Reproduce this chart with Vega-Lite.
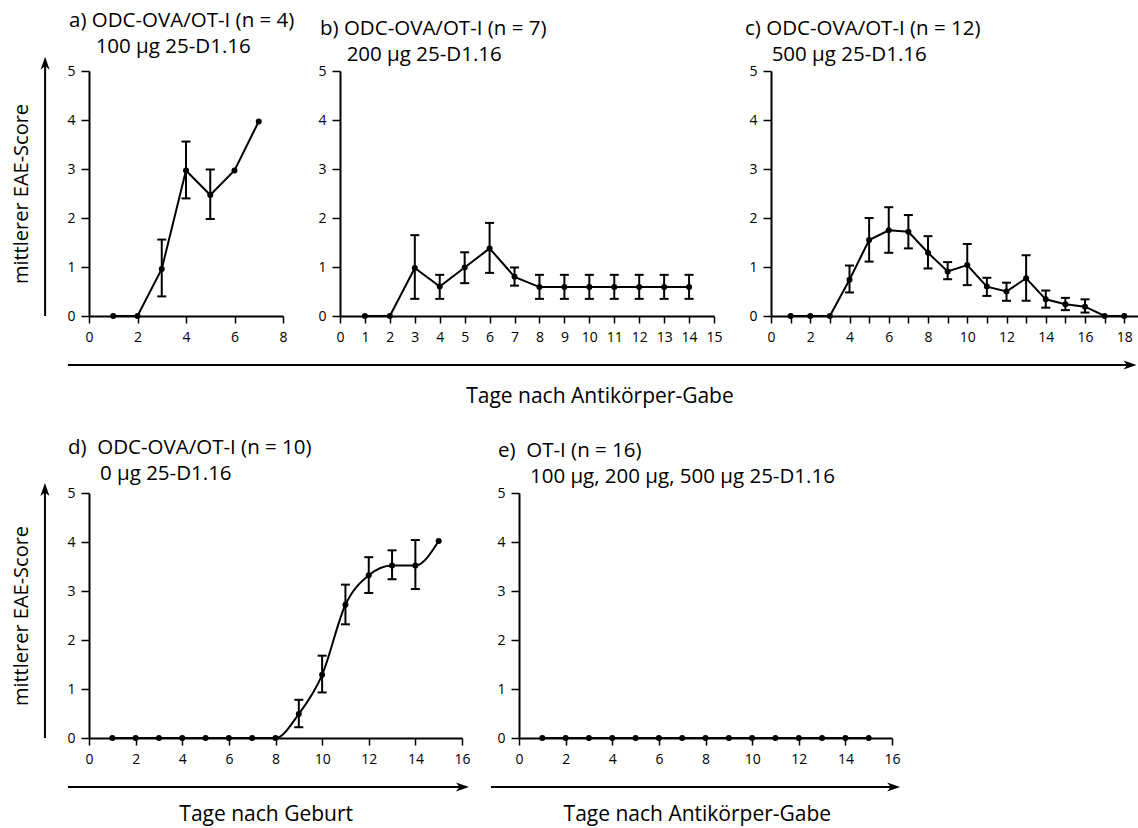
{
  "$schema": "https://vega.github.io/schema/vega-lite/v6.json",
  "padding": {"left": 11, "top": 11, "right": 0, "bottom": 5},
  "config": {
    "font": "Open Sans",
    "view": {"stroke": null},
    "axis": {"domainColor": "black", "domainWidth": 2, "tickColor": "black", "tickWidth": 1.5, "labelColor": "black", "labelFont": "Open Sans", "labelFontSize": 14, "grid": false, "titleColor": "black", "titleFont": "Open Sans", "titleFontSize": 20, "titleFontWeight": "normal", "labelFlush": false, "labelOverlap": false},
    "axisX": {"tickSize": 7, "labelPadding": 7},
    "axisY": {"tickSize": 8, "labelPadding": 6},
    "title": {"font": "Open Sans", "fontSize": 20.5, "fontWeight": "normal", "anchor": "start", "frame": "group", "color": "black", "lineHeight": 26, "offset": -1}
  },
  "data": {"values": [
    {"panel": "a", "day": 1, "score": 0},
    {"panel": "a", "day": 2, "score": 0},
    {"panel": "a", "day": 3, "score": 0.96, "lo": 0.4, "hi": 1.56},
    {"panel": "a", "day": 4, "score": 2.97, "lo": 2.4, "hi": 3.56},
    {"panel": "a", "day": 5, "score": 2.47, "lo": 1.98, "hi": 2.99},
    {"panel": "a", "day": 6, "score": 2.97},
    {"panel": "a", "day": 7, "score": 3.97},
    {"panel": "b", "day": 1, "score": 0},
    {"panel": "b", "day": 2, "score": 0},
    {"panel": "b", "day": 3, "score": 0.98, "lo": 0.35, "hi": 1.65},
    {"panel": "b", "day": 4, "score": 0.6, "lo": 0.35, "hi": 0.84},
    {"panel": "b", "day": 5, "score": 0.99, "lo": 0.67, "hi": 1.3},
    {"panel": "b", "day": 6, "score": 1.38, "lo": 0.88, "hi": 1.9},
    {"panel": "b", "day": 7, "score": 0.8, "lo": 0.62, "hi": 0.99},
    {"panel": "b", "day": 8, "score": 0.59, "lo": 0.35, "hi": 0.84},
    {"panel": "b", "day": 9, "score": 0.59, "lo": 0.35, "hi": 0.84},
    {"panel": "b", "day": 10, "score": 0.59, "lo": 0.35, "hi": 0.84},
    {"panel": "b", "day": 11, "score": 0.59, "lo": 0.35, "hi": 0.84},
    {"panel": "b", "day": 12, "score": 0.59, "lo": 0.35, "hi": 0.84},
    {"panel": "b", "day": 13, "score": 0.59, "lo": 0.35, "hi": 0.84},
    {"panel": "b", "day": 14, "score": 0.59, "lo": 0.35, "hi": 0.84},
    {"panel": "c", "day": 1, "score": 0},
    {"panel": "c", "day": 2, "score": 0},
    {"panel": "c", "day": 3, "score": 0},
    {"panel": "c", "day": 4, "score": 0.74, "lo": 0.48, "hi": 1.03},
    {"panel": "c", "day": 5, "score": 1.55, "lo": 1.11, "hi": 2.0},
    {"panel": "c", "day": 6, "score": 1.75, "lo": 1.29, "hi": 2.22},
    {"panel": "c", "day": 7, "score": 1.72, "lo": 1.38, "hi": 2.06},
    {"panel": "c", "day": 8, "score": 1.29, "lo": 0.97, "hi": 1.63},
    {"panel": "c", "day": 9, "score": 0.91, "lo": 0.75, "hi": 1.1},
    {"panel": "c", "day": 10, "score": 1.04, "lo": 0.63, "hi": 1.47},
    {"panel": "c", "day": 11, "score": 0.6, "lo": 0.41, "hi": 0.78},
    {"panel": "c", "day": 12, "score": 0.5, "lo": 0.31, "hi": 0.68},
    {"panel": "c", "day": 13, "score": 0.77, "lo": 0.31, "hi": 1.24},
    {"panel": "c", "day": 14, "score": 0.34, "lo": 0.17, "hi": 0.52},
    {"panel": "c", "day": 15, "score": 0.24, "lo": 0.12, "hi": 0.37},
    {"panel": "c", "day": 16, "score": 0.19, "lo": 0.07, "hi": 0.34},
    {"panel": "c", "day": 17, "score": 0},
    {"panel": "c", "day": 18, "score": 0},
    {"panel": "d", "day": 1, "score": 0},
    {"panel": "d", "day": 2, "score": 0},
    {"panel": "d", "day": 3, "score": 0},
    {"panel": "d", "day": 4, "score": 0},
    {"panel": "d", "day": 5, "score": 0},
    {"panel": "d", "day": 6, "score": 0},
    {"panel": "d", "day": 7, "score": 0},
    {"panel": "d", "day": 8, "score": 0},
    {"panel": "d", "day": 9, "score": 0.49, "lo": 0.22, "hi": 0.78},
    {"panel": "d", "day": 10, "score": 1.29, "lo": 0.93, "hi": 1.68},
    {"panel": "d", "day": 11, "score": 2.72, "lo": 2.32, "hi": 3.13},
    {"panel": "d", "day": 12, "score": 3.32, "lo": 2.96, "hi": 3.69},
    {"panel": "d", "day": 13, "score": 3.52, "lo": 3.24, "hi": 3.83},
    {"panel": "d", "day": 14, "score": 3.52, "lo": 3.04, "hi": 4.04},
    {"panel": "d", "day": 15, "score": 4.02},
    {"panel": "e", "day": 1, "score": 0},
    {"panel": "e", "day": 2, "score": 0},
    {"panel": "e", "day": 3, "score": 0},
    {"panel": "e", "day": 4, "score": 0},
    {"panel": "e", "day": 5, "score": 0},
    {"panel": "e", "day": 6, "score": 0},
    {"panel": "e", "day": 7, "score": 0},
    {"panel": "e", "day": 8, "score": 0},
    {"panel": "e", "day": 9, "score": 0},
    {"panel": "e", "day": 10, "score": 0},
    {"panel": "e", "day": 11, "score": 0},
    {"panel": "e", "day": 12, "score": 0},
    {"panel": "e", "day": 13, "score": 0},
    {"panel": "e", "day": 14, "score": 0},
    {"panel": "e", "day": 15, "score": 0}
  ]},
  "spacing": 422,
  "bounds": "flush",
  "vconcat": [
    {
      "spacing": 57,
      "bounds": "flush",
      "hconcat": [
        {
          "title": {"text": ["a) ODC-OVA/OT-I (n = 4)", "\u200b\u00a0\u00a0\u00a0\u00a0\u00a0100 µg 25-D1.16"], "dx": -20},
          "width": 194, "height": 245,
          "layer": [
            {
              "transform": [{"filter": "datum.panel == 'a'"}],
              "encoding": {"x": {"field": "day", "type": "quantitative", "scale": {"domain": [0, 8]}, "axis": {"values": [0,1,2,3,4,5,6,7,8], "title": null}}},
              "layer": [
                {"mark": {"type": "line", "color": "black", "strokeWidth": 2}, "encoding": {"y": {"field": "score", "type": "quantitative", "scale": {"domain": [0, 5]}, "axis": {"values": [0,1,2,3,4,5], "title": "mittlerer EAE-Score", "titlePadding": 35}}}},
                {"transform": [{"filter": "isValid(datum.lo)"}], "mark": {"type": "rule", "color": "black", "strokeWidth": 2}, "encoding": {"y": {"field": "lo", "type": "quantitative"}, "y2": {"field": "hi"}}},
                {"transform": [{"filter": "isValid(datum.lo)"}], "mark": {"type": "tick", "orient": "horizontal", "size": 9, "thickness": 2, "color": "black", "opacity": 1}, "encoding": {"y": {"field": "lo", "type": "quantitative"}}},
                {"transform": [{"filter": "isValid(datum.hi)"}], "mark": {"type": "tick", "orient": "horizontal", "size": 9, "thickness": 2, "color": "black", "opacity": 1}, "encoding": {"y": {"field": "hi", "type": "quantitative"}}},
                {"mark": {"type": "circle", "color": "black", "size": 36, "opacity": 1}, "encoding": {"y": {"field": "score", "type": "quantitative"}}}
              ]
            },
            {"data": {"values": [{}]}, "mark": {"type": "rule", "color": "black", "strokeWidth": 2}, "encoding": {"x": {"datum": -1.81, "type": "quantitative"}, "y": {"datum": 0, "type": "quantitative"}, "y2": {"datum": 5.16}}},
            {"data": {"values": [{}]}, "mark": {"type": "point", "shape": "M0,-1L0.7,1L0,0.45L-0.7,1Z", "filled": true, "color": "black", "size": 169, "opacity": 1}, "encoding": {"x": {"datum": -1.81, "type": "quantitative"}, "y": {"datum": 5.16, "type": "quantitative"}}},
            {"data": {"values": [{}]}, "mark": {"type": "rule", "color": "black", "strokeWidth": 2}, "encoding": {"x": {"datum": -0.87, "type": "quantitative"}, "x2": {"datum": 42.93}, "y": {"datum": -1.0, "type": "quantitative"}}},
            {"data": {"values": [{}]}, "mark": {"type": "point", "shape": "M0,-1L0.7,1L0,0.45L-0.7,1Z", "filled": true, "color": "black", "size": 169, "opacity": 1, "angle": 90}, "encoding": {"x": {"datum": 42.93, "type": "quantitative"}, "y": {"datum": -1.0, "type": "quantitative"}}},
            {"data": {"values": [{}]}, "mark": {"type": "text", "text": "Tage nach Antikörper-Gabe", "font": "Open Sans", "fontSize": 21, "color": "black", "align": "center", "baseline": "middle"}, "encoding": {"x": {"datum": 21.07, "type": "quantitative"}, "y": {"datum": -1.65, "type": "quantitative"}}}
          ]
        },
        {
          "title": {"text": ["b) ODC-OVA/OT-I (n = 7)", "\u200b\u00a0\u00a0\u00a0\u00a0\u00a0200 µg 25-D1.16"], "dx": -20},
          "width": 374, "height": 245,
          "transform": [{"filter": "datum.panel == 'b'"}],
          "encoding": {"x": {"field": "day", "type": "quantitative", "scale": {"domain": [0, 15]}, "axis": {"values": [0,1,2,3,4,5,6,7,8,9,10,11,12,13,14,15], "title": null}}},
          "layer": [
            {"mark": {"type": "line", "color": "black", "strokeWidth": 2}, "encoding": {"y": {"field": "score", "type": "quantitative", "scale": {"domain": [0, 5]}, "axis": {"values": [0,1,2,3,4,5], "title": null}}}},
            {"transform": [{"filter": "isValid(datum.lo)"}], "mark": {"type": "rule", "color": "black", "strokeWidth": 2}, "encoding": {"y": {"field": "lo", "type": "quantitative"}, "y2": {"field": "hi"}}},
            {"transform": [{"filter": "isValid(datum.lo)"}], "mark": {"type": "tick", "orient": "horizontal", "size": 9, "thickness": 2, "color": "black", "opacity": 1}, "encoding": {"y": {"field": "lo", "type": "quantitative"}}},
            {"transform": [{"filter": "isValid(datum.hi)"}], "mark": {"type": "tick", "orient": "horizontal", "size": 9, "thickness": 2, "color": "black", "opacity": 1}, "encoding": {"y": {"field": "hi", "type": "quantitative"}}},
            {"mark": {"type": "circle", "color": "black", "size": 36, "opacity": 1}, "encoding": {"y": {"field": "score", "type": "quantitative"}}}
          ]
        },
        {
          "title": {"text": ["c) ODC-OVA/OT-I (n = 12)", "\u200b\u00a0\u00a0\u00a0\u00a0\u00a0500 µg 25-D1.16"], "dx": -26},
          "width": 367, "height": 245,
          "transform": [{"filter": "datum.panel == 'c'"}],
          "encoding": {"x": {"field": "day", "type": "quantitative", "scale": {"domain": [0, 18.7]}, "axis": {"values": [0,1,2,3,4,5,6,7,8,9,10,11,12,13,14,15,16,17,18], "labelExpr": "datum.value % 2 == 0 ? datum.label : ''", "title": null}}},
          "layer": [
            {"mark": {"type": "line", "color": "black", "strokeWidth": 2}, "encoding": {"y": {"field": "score", "type": "quantitative", "scale": {"domain": [0, 5]}, "axis": {"values": [0,1,2,3,4,5], "title": null}}}},
            {"transform": [{"filter": "isValid(datum.lo)"}], "mark": {"type": "rule", "color": "black", "strokeWidth": 2}, "encoding": {"y": {"field": "lo", "type": "quantitative"}, "y2": {"field": "hi"}}},
            {"transform": [{"filter": "isValid(datum.lo)"}], "mark": {"type": "tick", "orient": "horizontal", "size": 9, "thickness": 2, "color": "black", "opacity": 1}, "encoding": {"y": {"field": "lo", "type": "quantitative"}}},
            {"transform": [{"filter": "isValid(datum.hi)"}], "mark": {"type": "tick", "orient": "horizontal", "size": 9, "thickness": 2, "color": "black", "opacity": 1}, "encoding": {"y": {"field": "hi", "type": "quantitative"}}},
            {"mark": {"type": "circle", "color": "black", "size": 36, "opacity": 1}, "encoding": {"y": {"field": "score", "type": "quantitative"}}}
          ]
        }
      ]
    },
    {
      "spacing": 57,
      "bounds": "flush",
      "hconcat": [
        {
          "title": {"text": ["d)\u00a0\u00a0ODC-OVA/OT-I (n = 10)", "\u200b\u00a0\u00a0\u00a0\u00a0\u00a0\u00a00 µg 25-D1.16"], "dx": -21},
          "width": 373, "height": 245,
          "layer": [
            {
              "transform": [{"filter": "datum.panel == 'd'"}],
              "encoding": {"x": {"field": "day", "type": "quantitative", "scale": {"domain": [0, 16]}, "axis": {"values": [0,1,2,3,4,5,6,7,8,9,10,11,12,13,14,15,16], "labelExpr": "datum.value % 2 == 0 ? datum.label : ''", "title": null}}},
              "layer": [
                {"mark": {"type": "line", "color": "black", "strokeWidth": 2, "interpolate": "monotone"}, "encoding": {"y": {"field": "score", "type": "quantitative", "scale": {"domain": [0, 5]}, "axis": {"values": [0,1,2,3,4,5], "title": "mittlerer EAE-Score", "titlePadding": 35}}}},
                {"transform": [{"filter": "isValid(datum.lo)"}], "mark": {"type": "rule", "color": "black", "strokeWidth": 2}, "encoding": {"y": {"field": "lo", "type": "quantitative"}, "y2": {"field": "hi"}}},
                {"transform": [{"filter": "isValid(datum.lo)"}], "mark": {"type": "tick", "orient": "horizontal", "size": 9, "thickness": 2, "color": "black", "opacity": 1}, "encoding": {"y": {"field": "lo", "type": "quantitative"}}},
                {"transform": [{"filter": "isValid(datum.hi)"}], "mark": {"type": "tick", "orient": "horizontal", "size": 9, "thickness": 2, "color": "black", "opacity": 1}, "encoding": {"y": {"field": "hi", "type": "quantitative"}}},
                {"mark": {"type": "circle", "color": "black", "size": 36, "opacity": 1}, "encoding": {"y": {"field": "score", "type": "quantitative"}}}
              ]
            },
            {"data": {"values": [{}]}, "mark": {"type": "rule", "color": "black", "strokeWidth": 2}, "encoding": {"x": {"datum": -1.89, "type": "quantitative"}, "y": {"datum": 0, "type": "quantitative"}, "y2": {"datum": 5.07}}},
            {"data": {"values": [{}]}, "mark": {"type": "point", "shape": "M0,-1L0.7,1L0,0.45L-0.7,1Z", "filled": true, "color": "black", "size": 169, "opacity": 1}, "encoding": {"x": {"datum": -1.89, "type": "quantitative"}, "y": {"datum": 5.07, "type": "quantitative"}}},
            {"data": {"values": [{}]}, "mark": {"type": "rule", "color": "black", "strokeWidth": 2}, "encoding": {"x": {"datum": -0.9, "type": "quantitative"}, "x2": {"datum": 16.02}, "y": {"datum": -1.0, "type": "quantitative"}}},
            {"data": {"values": [{}]}, "mark": {"type": "point", "shape": "M0,-1L0.7,1L0,0.45L-0.7,1Z", "filled": true, "color": "black", "size": 169, "opacity": 1, "angle": 90}, "encoding": {"x": {"datum": 16.02, "type": "quantitative"}, "y": {"datum": -1.0, "type": "quantitative"}}},
            {"data": {"values": [{}]}, "mark": {"type": "text", "text": "Tage nach Geburt", "font": "Open Sans", "fontSize": 21, "color": "black", "align": "center", "baseline": "middle"}, "encoding": {"x": {"datum": 7.6, "type": "quantitative"}, "y": {"datum": -1.57, "type": "quantitative"}}}
          ]
        },
        {
          "title": {"text": ["e)\u00a0\u00a0OT-I (n = 16)", "\u200b\u00a0\u00a0\u00a0\u00a0\u00a0\u00a0100 µg, 200 µg, 500 µg 25-D1.16"], "dx": -21},
          "width": 373, "height": 245,
          "layer": [
            {
              "transform": [{"filter": "datum.panel == 'e'"}],
              "encoding": {"x": {"field": "day", "type": "quantitative", "scale": {"domain": [0, 16]}, "axis": {"values": [0,1,2,3,4,5,6,7,8,9,10,11,12,13,14,15,16], "labelExpr": "datum.value % 2 == 0 ? datum.label : ''", "title": null}}},
              "layer": [
                {"mark": {"type": "line", "color": "black", "strokeWidth": 2}, "encoding": {"y": {"field": "score", "type": "quantitative", "scale": {"domain": [0, 5]}, "axis": {"values": [0,1,2,3,4,5], "title": null}}}},
                {"mark": {"type": "circle", "color": "black", "size": 36, "opacity": 1}, "encoding": {"y": {"field": "score", "type": "quantitative"}}}
              ]
            },
            {"data": {"values": [{}]}, "mark": {"type": "rule", "color": "black", "strokeWidth": 2}, "encoding": {"x": {"datum": -1.2, "type": "quantitative"}, "x2": {"datum": 16.07}, "y": {"datum": -1.0, "type": "quantitative"}}},
            {"data": {"values": [{}]}, "mark": {"type": "point", "shape": "M0,-1L0.7,1L0,0.45L-0.7,1Z", "filled": true, "color": "black", "size": 169, "opacity": 1, "angle": 90}, "encoding": {"x": {"datum": 16.07, "type": "quantitative"}, "y": {"datum": -1.0, "type": "quantitative"}}},
            {"data": {"values": [{}]}, "mark": {"type": "text", "text": "Tage nach Antikörper-Gabe", "font": "Open Sans", "fontSize": 21, "color": "black", "align": "center", "baseline": "middle"}, "encoding": {"x": {"datum": 7.65, "type": "quantitative"}, "y": {"datum": -1.57, "type": "quantitative"}}}
          ]
        }
      ]
    }
  ]
}
